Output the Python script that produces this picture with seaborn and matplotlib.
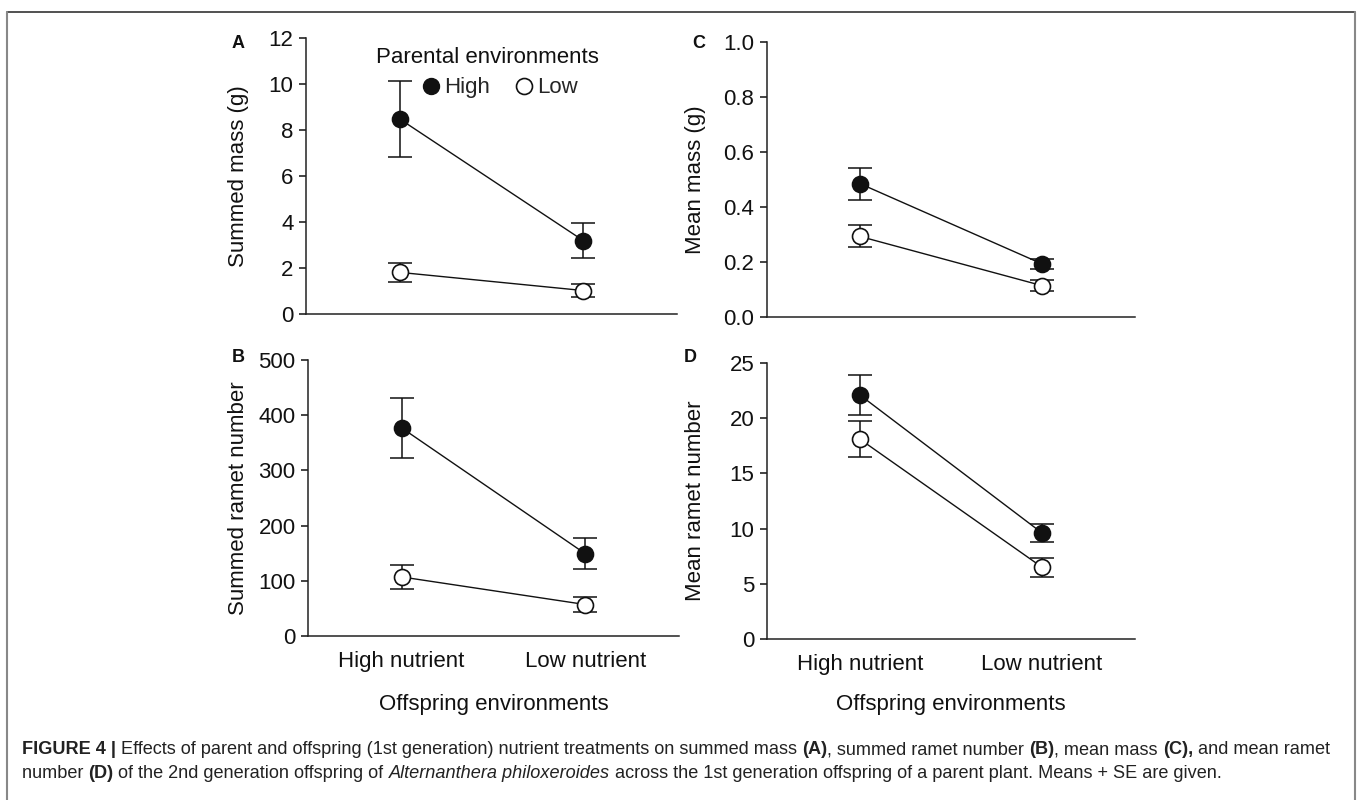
import matplotlib
matplotlib.use("Agg")
import matplotlib.pyplot as plt
from matplotlib.lines import Line2D
import seaborn as sns
import pandas as pd

# ---------------- data ----------------
offspring = ["High nutrient", "Low nutrient"]
parental = ["High", "Low"]

summed_mass_high = [8.48, 3.19]
summed_mass_high_se = [1.65, 0.75]
summed_mass_low = [1.81, 1.02]
summed_mass_low_se = [0.42, 0.27]

summed_ramet_high = [377, 149]
summed_ramet_high_se = [55, 28]
summed_ramet_low = [107, 57]
summed_ramet_low_se = [21, 14]

mean_mass_high = [0.485, 0.193]
mean_mass_high_se = [0.058, 0.019]
mean_mass_low = [0.293, 0.114]
mean_mass_low_se = [0.040, 0.019]

mean_ramet_high = [22.1, 9.6]
mean_ramet_high_se = [1.8, 0.8]
mean_ramet_low = [18.1, 6.5]
mean_ramet_low_se = [1.65, 0.85]

# ---------------- style ----------------
sns.set_theme(style="ticks")
plt.rcParams["font.family"] = ["Liberation Sans", "DejaVu Sans"]
plt.rcParams["axes.linewidth"] = 1.1
plt.rcParams["axes.edgecolor"] = "#222222"

W, H = 1358, 800
fig = plt.figure(figsize=(W / 100, H / 100), dpi=100)
fig.patch.set_facecolor("white")

TICK_FS = 16
MS = 11.5


def px_rect(left, top, right, bottom):
    return [left / W, 1 - bottom / H, (right - left) / W, (bottom - top) / H]


def make_df(high, high_se, low, low_se):
    rows = []
    for i, o in enumerate(offspring):
        rows.append({"offspring": o, "parental": "High", "value": high[i], "se": high_se[i]})
        rows.append({"offspring": o, "parental": "Low", "value": low[i], "se": low_se[i]})
    return pd.DataFrame(rows)


def draw_panel(ax, df, ylim, yticks, yfmt, ylabel, letter, show_x, ylab_x, xlab_y, letter_xy):
    for lvl in parental:
        sub = df[df["parental"] == lvl]
        ax.errorbar(range(len(sub)), sub["value"], yerr=sub["se"], fmt="none",
                    ecolor="#111111", elinewidth=1.1, capsize=8.5, capthick=1.1, zorder=1)
    sns.pointplot(data=df, x="offspring", y="value", hue="parental",
                  hue_order=parental, order=offspring,
                  palette=["#111111", "#111111"], markers="o", linestyles="-",
                  errorbar=None, dodge=False, legend=False, ax=ax,
                  markersize=MS, linewidth=1.0)
    lines = [l for l in ax.lines if len(l.get_xdata()) == len(offspring)]
    for l, lvl in zip(lines[-2:], parental):
        l.set_zorder(3)
        l.set_markeredgecolor("#111111")
        l.set_markeredgewidth(1.2)
        l.set_markerfacecolor("#111111" if lvl == "High" else "white")
    ax.set_xlim(-0.51, 1.51)
    ax.set_ylim(*ylim)
    ax.set_yticks(yticks)
    ax.set_yticklabels([yfmt.format(v) for v in yticks])
    ax.tick_params(axis="y", direction="out", length=5, width=1.1, labelsize=TICK_FS,
                   pad=4, colors="#111111")
    ax.tick_params(axis="x", length=0, labelsize=TICK_FS, pad=11, colors="#111111")
    if show_x:
        ax.set_xlabel("Offspring environments", fontsize=TICK_FS, color="#111111")
        ax.xaxis.set_label_coords(0.5, xlab_y)
    else:
        ax.set_xticklabels([])
        ax.set_xlabel("")
    ax.set_ylabel(ylabel, fontsize=TICK_FS, color="#111111")
    ax.yaxis.set_label_coords(ylab_x, 0.5)
    for s in ["top", "right"]:
        ax.spines[s].set_visible(False)
    ax.text(letter_xy[0] / W, 1 - letter_xy[1] / H, letter, transform=fig.transFigure,
            fontsize=13, fontweight="bold", ha="center", va="center", color="#111111")


axA = fig.add_axes(px_rect(306, 38, 677, 314))
axC = fig.add_axes(px_rect(767, 42, 1135, 317))
axB = fig.add_axes(px_rect(308, 360, 679, 636))
axD = fig.add_axes(px_rect(767, 363, 1135, 639))

draw_panel(axA, make_df(summed_mass_high, summed_mass_high_se, summed_mass_low, summed_mass_low_se),
           (0, 12), [0, 2, 4, 6, 8, 10, 12], "{:.0f}", "Summed mass (g)", "A", False,
           -0.154, -0.21, (238, 44))
draw_panel(axC, make_df(mean_mass_high, mean_mass_high_se, mean_mass_low, mean_mass_low_se),
           (0, 1.0), [0, 0.2, 0.4, 0.6, 0.8, 1.0], "{:.1f}", "Mean mass (g)", "C", False,
           -0.166, -0.21, (699, 44))
draw_panel(axB, make_df(summed_ramet_high, summed_ramet_high_se, summed_ramet_low, summed_ramet_low_se),
           (0, 500), [0, 100, 200, 300, 400, 500], "{:.0f}", "Summed ramet number", "B", True,
           -0.159, -0.21, (238, 357))
draw_panel(axD, make_df(mean_ramet_high, mean_ramet_high_se, mean_ramet_low, mean_ramet_low_se),
           (0, 25), [0, 5, 10, 15, 20, 25], "{:.0f}", "Mean ramet number", "D", True,
           -0.166, -0.199, (690, 357))

# legend in panel A
axA.text(0.49, 0.931, "Parental environments", transform=axA.transAxes, ha="center",
         va="center", fontsize=TICK_FS, color="#111111")
handles = [Line2D([], [], marker="o", color="#111111", mfc="#111111", mec="#111111",
                  linestyle="none", markersize=MS),
           Line2D([], [], marker="o", color="#111111", mfc="white", mec="#111111",
                  linestyle="none", markersize=MS, markeredgewidth=1.2)]
axA.legend(handles, parental, loc="center left", bbox_to_anchor=(0.313, 0.819), ncol=2,
           frameon=False, fontsize=TICK_FS, handlelength=0.8, handletextpad=0.2,
           columnspacing=1.1, borderpad=0, borderaxespad=0)

# ---------------- frame ----------------
fig.add_artist(Line2D([7 / W, 1355 / W], [1 - 12 / H, 1 - 12 / H], transform=fig.transFigure,
                      color="#333333", lw=1.2))
fig.add_artist(Line2D([7 / W, 7 / W], [1 - 12 / H, 0], transform=fig.transFigure,
                      color="#888888", lw=1.5))
fig.add_artist(Line2D([1355 / W, 1355 / W], [1 - 12 / H, 0], transform=fig.transFigure,
                      color="#888888", lw=1.5))

# ---------------- caption ----------------
CAP_FS = 13.05
renderer = fig.canvas.get_renderer()


def seg_width(s, weight, style):
    t1 = fig.text(0, 0, "x" + s + "x", fontsize=CAP_FS, fontweight=weight, fontstyle=style)
    t2 = fig.text(0, 0, "xx", fontsize=CAP_FS, fontweight=weight, fontstyle=style)
    w = t1.get_window_extent(renderer).width - t2.get_window_extent(renderer).width
    t1.remove()
    t2.remove()
    return w


def rich_line(x_px, y_px, segments):
    x = x_px
    for s, weight, style in segments:
        fig.text(x / W, 1 - y_px / H, s, fontsize=CAP_FS, fontweight=weight, fontstyle=style,
                 ha="left", va="center", color="#222222")
        x += seg_width(s, weight, style)


line1 = [("FIGURE 4 |", "bold", "normal"),
         (" Effects of parent and offspring (1st generation) nutrient treatments on summed mass ", "normal", "normal"),
         ("(A)", "bold", "normal"),
         (", summed ramet number ", "normal", "normal"),
         ("(B)", "bold", "normal"),
         (", mean mass ", "normal", "normal"),
         ("(C),", "bold", "normal"),
         (" and mean ramet", "normal", "normal")]
line2 = [("number ", "normal", "normal"),
         ("(D)", "bold", "normal"),
         (" of the 2nd generation offspring of ", "normal", "normal"),
         ("Alternanthera philoxeroides", "normal", "italic"),
         (" across the 1st generation offspring of a parent plant. Means + SE are given.", "normal", "normal")]
rich_line(22, 750, line1)
rich_line(22, 774, line2)

fig.savefig("out.png", dpi=100, facecolor="white")
